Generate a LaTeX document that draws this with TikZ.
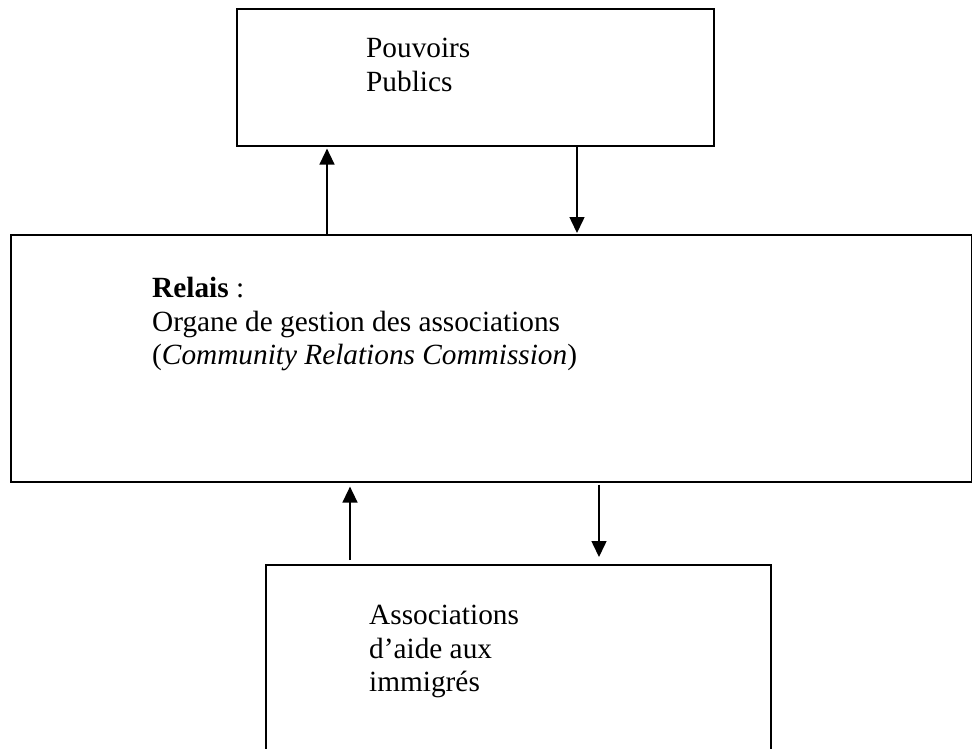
\documentclass[tikz,border=0pt]{standalone}
\usepackage{fontspec}
\setmainfont{Liberation Serif}
\usetikzlibrary{arrows.meta}
\begin{document}
\begin{tikzpicture}[x=1pt,y=-1pt,
  box/.style={draw,line width=1.6pt,rectangle,inner sep=0pt,anchor=north west},
  lbl/.style={anchor=north west,inner sep=0pt,align=left,font=\fontsize{29.3}{33.5}\selectfont},
  arr/.style={line width=1.5pt,-{Triangle[length=16pt,width=15pt]}}]
\useasboundingbox (0,0) rectangle (972,748);
\clip (0,0) rectangle (972,748);
\node[box,minimum width=477pt,minimum height=137pt] (top) at (236,8) {};
\node[box,minimum width=961pt,minimum height=247pt] (mid) at (10,234) {};
\node[box,minimum width=505pt,minimum height=200pt] (bot) at (265,564) {};
\node[lbl] (toptxt) at (366,38) {Pouvoirs\\Publics};
\node[lbl] (midtxt) at (152,277) {\textbf{Relais} :\\Organe de gestion des associations\\(\textit{Community Relations Commission})};
\node[lbl] (bottxt) at (369,605) {Associations\\d’aide aux\\immigrés};
\draw[arr,shorten >=2pt] ([xshift=317pt]mid.north west) -- ([xshift=91pt]top.south west);
\draw[arr,shorten >=1pt] ([xshift=341pt]top.south west) -- ([xshift=567pt]mid.north west);
\draw[arr,shorten <=4pt,shorten >=4pt] ([xshift=85pt]bot.north west) -- ([xshift=340pt]mid.south west);
\draw[arr,shorten <=2pt,shorten >=7pt] ([xshift=589pt]mid.south west) -- ([xshift=334pt]bot.north west);
\end{tikzpicture}
\end{document}
